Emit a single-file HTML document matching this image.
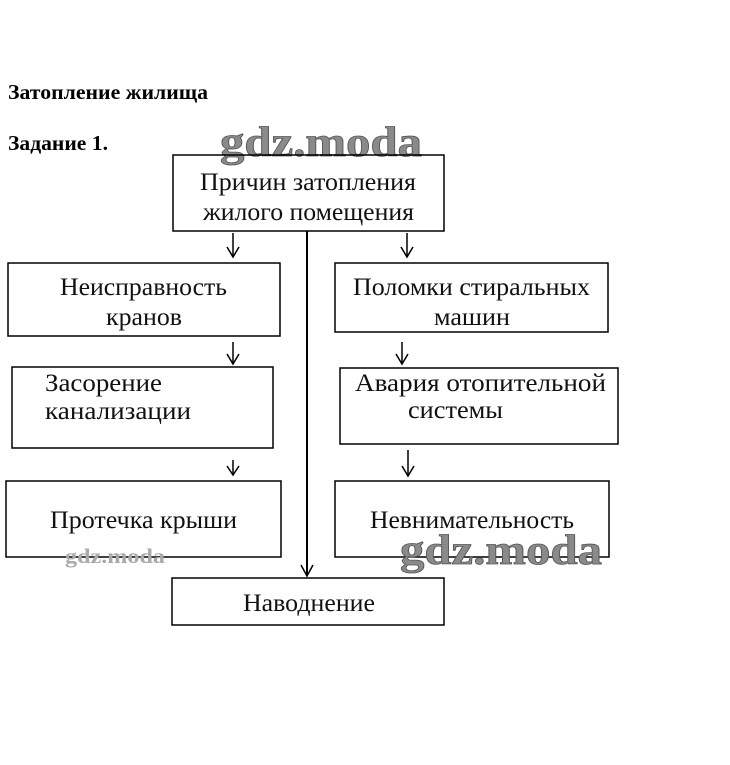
<!DOCTYPE html>
<html><head><meta charset="utf-8"><style>
html,body{margin:0;padding:0;background:#fff;}
svg{display:block;}
</style></head><body>
<svg width="730" height="765" viewBox="0 0 730 765" xmlns="http://www.w3.org/2000/svg" font-family="'Liberation Serif', serif">
<rect width="730" height="765" fill="#fff"/>
<text x="8" y="99" font-size="21" font-weight="bold" textLength="200" lengthAdjust="spacingAndGlyphs">Затопление жилища</text>
<text x="8" y="150" font-size="21" font-weight="bold" textLength="100" lengthAdjust="spacingAndGlyphs">Задание 1.</text>
<text x="321" y="156" font-size="42" font-weight="bold" fill="#8a8a8a" stroke="#555" stroke-width="0.8" text-anchor="middle" textLength="202" lengthAdjust="spacingAndGlyphs">gdz.moda</text>
<g fill="none" stroke="#000" stroke-width="1.5">
<rect x="173" y="155" width="271" height="76"/>
<rect x="8" y="263" width="272" height="73"/>
<rect x="335" y="263" width="273" height="69"/>
<rect x="12" y="367" width="261" height="81"/>
<rect x="340" y="368" width="278" height="76"/>
<rect x="6" y="481" width="275" height="76"/>
<rect x="335" y="481" width="274" height="76"/>
<rect x="172" y="578" width="272" height="47"/>
<line x1="307" y1="231" x2="307" y2="576" stroke-width="2"/>
<path d="M301 565 L307 576 L313 565"/>
<line x1="233" y1="233" x2="233" y2="257"/><path d="M227 247 L233 257 L239 247"/>
<line x1="407" y1="233" x2="407" y2="257"/><path d="M401 247 L407 257 L413 247"/>
<line x1="233" y1="342" x2="233" y2="364"/><path d="M227 354 L233 364 L239 354"/>
<line x1="402" y1="342" x2="402" y2="364"/><path d="M396 354 L402 364 L408 354"/>
<line x1="233" y1="460" x2="233" y2="475"/><path d="M227 466 L233 475 L239 466"/>
<line x1="408" y1="450" x2="408" y2="476"/><path d="M402 466 L408 476 L414 466"/>
</g>
<g font-size="25" fill="#111" lengthAdjust="spacingAndGlyphs">
<text x="200" y="190" textLength="216" lengthAdjust="spacingAndGlyphs">Причин затопления</text>
<text x="203" y="220" textLength="211" lengthAdjust="spacingAndGlyphs">жилого помещения</text>
<text x="60" y="295" textLength="167" lengthAdjust="spacingAndGlyphs">Неисправность</text>
<text x="106" y="325" textLength="76" lengthAdjust="spacingAndGlyphs">кранов</text>
<text x="353" y="295" textLength="237" lengthAdjust="spacingAndGlyphs">Поломки стиральных</text>
<text x="434" y="325" textLength="76" lengthAdjust="spacingAndGlyphs">машин</text>
<text x="45" y="391" textLength="117" lengthAdjust="spacingAndGlyphs">Засорение</text>
<text x="45" y="419" textLength="146" lengthAdjust="spacingAndGlyphs">канализации</text>
<text x="355" y="391" textLength="251" lengthAdjust="spacingAndGlyphs">Авария отопительной</text>
<text x="408" y="418" textLength="95" lengthAdjust="spacingAndGlyphs">системы</text>
<text x="50" y="528" textLength="187" lengthAdjust="spacingAndGlyphs">Протечка крыши</text>
<text x="370" y="528" textLength="204" lengthAdjust="spacingAndGlyphs">Невнимательность</text>
<text x="243" y="611" textLength="132" lengthAdjust="spacingAndGlyphs">Наводнение</text>
</g>
<text x="501" y="564" font-size="42" font-weight="bold" fill="#8a8a8a" stroke="#555" stroke-width="0.8" text-anchor="middle" textLength="202" lengthAdjust="spacingAndGlyphs">gdz.moda</text>
<text x="115" y="563" font-size="21" font-weight="bold" fill="#aaa" text-anchor="middle" textLength="100" lengthAdjust="spacingAndGlyphs">gdz.moda</text>
</svg>
</body></html>
